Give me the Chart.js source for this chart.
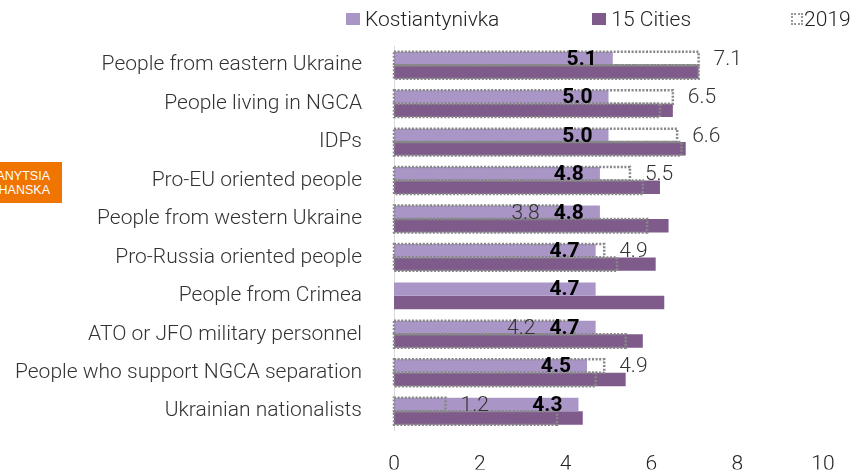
<!DOCTYPE html>
<html>
<head>
<meta charset="utf-8">
<script src="https://cdn.jsdelivr.net/npm/chart.js@4.4.1/dist/chart.umd.min.js"></script>
<style>
  html, body { margin: 0; padding: 0; background: #fff; }
  #wrap { position: relative; width: 859px; height: 475px; font-family: Roboto, 'Open Sans', sans-serif; }
  #legend { position: absolute; top: 7px; left: 346px; display: flex; align-items: center; font-size: 21px; font-weight: 300; color: #222; line-height: 24px; }
  #legend .item { display: flex; align-items: center; margin-right: 93px; }
  #legend .item:nth-child(2) { margin-right: 100px; }
  #legend .item:last-child { margin-right: 0; }
  #legend .swatch { width: 14px; height: 12px; margin-right: 5px; box-sizing: border-box; }
  #legend .dotted { width: 12px; height: 12px; border: 2px dotted #9a9a9a; background: #fff; margin-right: 1px; }
  #badge { position: absolute; left: 0; top: 162px; width: 50px; height: 41px; padding-right: 12px; background: #f07400; color: #fff;
           font-family: 'Liberation Sans', Arial, sans-serif; font-size: 12.5px; line-height: 14px; box-sizing: content-box;
           display: flex; flex-direction: column; justify-content: center; align-items: flex-end; overflow: hidden; white-space: nowrap; }
  canvas { position: absolute; left: 0; top: 0; }
</style>
</head>
<body>
<div id="wrap">
  <canvas id="barChart" width="859" height="475"></canvas>
  <div id="legend"></div>
  <div id="badge"><span>ANYTSIA</span><span>HANSKA</span></div>
</div>
<script>
const categories = [
  'People from eastern Ukraine',
  'People living in NGCA',
  'IDPs',
  'Pro-EU oriented people',
  'People from western Ukraine',
  'Pro-Russia oriented people',
  'People from Crimea',
  'ATO or JFO military personnel',
  'People who support NGCA separation',
  'Ukrainian nationalists'
];
const kostiantynivka = [5.1, 5.0, 5.0, 4.8, 4.8, 4.7, 4.7, 4.7, 4.5, 4.3];
const fifteenCities = [7.1, 6.5, 6.8, 6.2, 6.4, 6.1, 6.3, 5.8, 5.4, 4.4];
const kostiantynivka2019 = [7.1, 6.5, 6.6, 5.5, 3.8, 4.9, null, 4.2, 4.9, 1.2];
const fifteenCities2019 = [7.1, 6.2, 6.7, 5.8, 5.9, 5.2, null, 5.4, 4.7, 3.8];
const xTicks = [0, 2, 4, 6, 8, 10];

const lightPurple = '#a996c6';
const darkPurple = '#7f5b8c';
const FONT = 'Roboto';

// legend (html, so the spacing can follow the original)
const legendEl = document.getElementById('legend');
[['Kostiantynivka', lightPurple], ['15 Cities', darkPurple], ['2019', null]].forEach(([name, color]) => {
  const item = document.createElement('div');
  item.className = 'item';
  const sw = document.createElement('span');
  sw.className = color ? 'swatch' : 'swatch dotted';
  if (color) sw.style.background = color;
  const txt = document.createElement('span');
  txt.textContent = name;
  item.appendChild(sw);
  item.appendChild(txt);
  legendEl.appendChild(item);
});

// dotted 2019 boxes + value labels
const dottedBars = {
  id: 'dottedBars',
  afterDatasetsDraw(chart) {
    const ctx = chart.ctx;
    const kMeta = chart.getDatasetMeta(0);
    ctx.save();
    ctx.strokeStyle = '#878787';
    ctx.lineWidth = 2.5;
    ctx.setLineDash([2, 1.6]);
    [2, 3].forEach(di => {
      const meta = chart.getDatasetMeta(di);
      const values = chart.data.datasets[di].data;
      meta.data.forEach((bar, i) => {
        if (values[i] == null) return;
        const { x, y, base, height } = bar.getProps(['x', 'y', 'base', 'height'], true);
        ctx.strokeRect(base, y - height / 2, x - base, height);
      });
    });
    ctx.setLineDash([]);

    ctx.textBaseline = 'middle';
    const boldFont = 'bold 21px ' + FONT;
    const lightFont = '300 21px ' + FONT;

    // Kostiantynivka values
    ctx.font = boldFont;
    ctx.fillStyle = '#000';
    ctx.textAlign = 'right';
    kMeta.data.forEach((bar, i) => {
      ctx.fillText(kostiantynivka[i].toFixed(1), bar.x - 16, bar.y + 1);
    });

    // 2019 values, moved left of the bold label when they would collide
    const k19Meta = chart.getDatasetMeta(2);
    k19Meta.data.forEach((bar, i) => {
      const v = kostiantynivka2019[i];
      if (v == null) return;
      const txt = v.toFixed(1);
      ctx.font = boldFont;
      const kRight = kMeta.data[i].x - 16;
      const kLeft = kRight - ctx.measureText(kostiantynivka[i].toFixed(1)).width;
      ctx.font = lightFont;
      ctx.fillStyle = '#333';
      const w = ctx.measureText(txt).width;
      const start = bar.x + 15;
      if (start < kRight + 20 && start + w > kLeft) {
        ctx.textAlign = 'right';
        ctx.fillText(txt, kLeft - 14, bar.y + 1);
      } else {
        ctx.textAlign = 'left';
        ctx.fillText(txt, start, bar.y + 1);
      }
    });
    ctx.restore();
  }
};

new Chart(document.getElementById('barChart'), {
  type: 'bar',
  data: {
    labels: categories,
    datasets: [
      { label: 'Kostiantynivka', data: kostiantynivka, stack: 'k', backgroundColor: lightPurple, borderWidth: 0 },
      { label: '15 Cities', data: fifteenCities, stack: 'c', backgroundColor: darkPurple, borderWidth: 0 },
      { label: '2019', data: kostiantynivka2019, stack: 'k', backgroundColor: 'rgba(0,0,0,0)', borderWidth: 0 },
      { label: '2019 15 Cities', data: fifteenCities2019, stack: 'c', backgroundColor: 'rgba(0,0,0,0)', borderWidth: 0 }
    ]
  },
  options: {
    indexAxis: 'y',
    responsive: false,
    animation: false,
    layout: { padding: { top: 46, right: 36, left: 0, bottom: 0 } },
    datasets: { bar: { categoryPercentage: 0.7, barPercentage: 1.0 } },
    scales: {
      x: {
        stacked: false,
        min: 0,
        max: 10,
        afterBuildTicks: (s) => { s.ticks = xTicks.map(v => ({ value: v })); },
        grid: { display: false },
        border: { display: false },
        ticks: { font: { family: FONT, size: 21, weight: '300' }, color: '#222', padding: 14 },
        afterFit: (s) => { s.height = 39; }
      },
      y: {
        stacked: true,
        grid: { display: false, drawTicks: false },
        border: { display: true, color: '#d9d9d9', width: 1 },
        ticks: { font: { family: FONT, size: 21, weight: '300' }, color: '#333', padding: 32 },
        afterFit: (s) => { s.width = 394; }
      }
    },
    plugins: {
      legend: { display: false },
      tooltip: { enabled: false }
    }
  },
  plugins: [dottedBars]
});
</script>
</body>
</html>
